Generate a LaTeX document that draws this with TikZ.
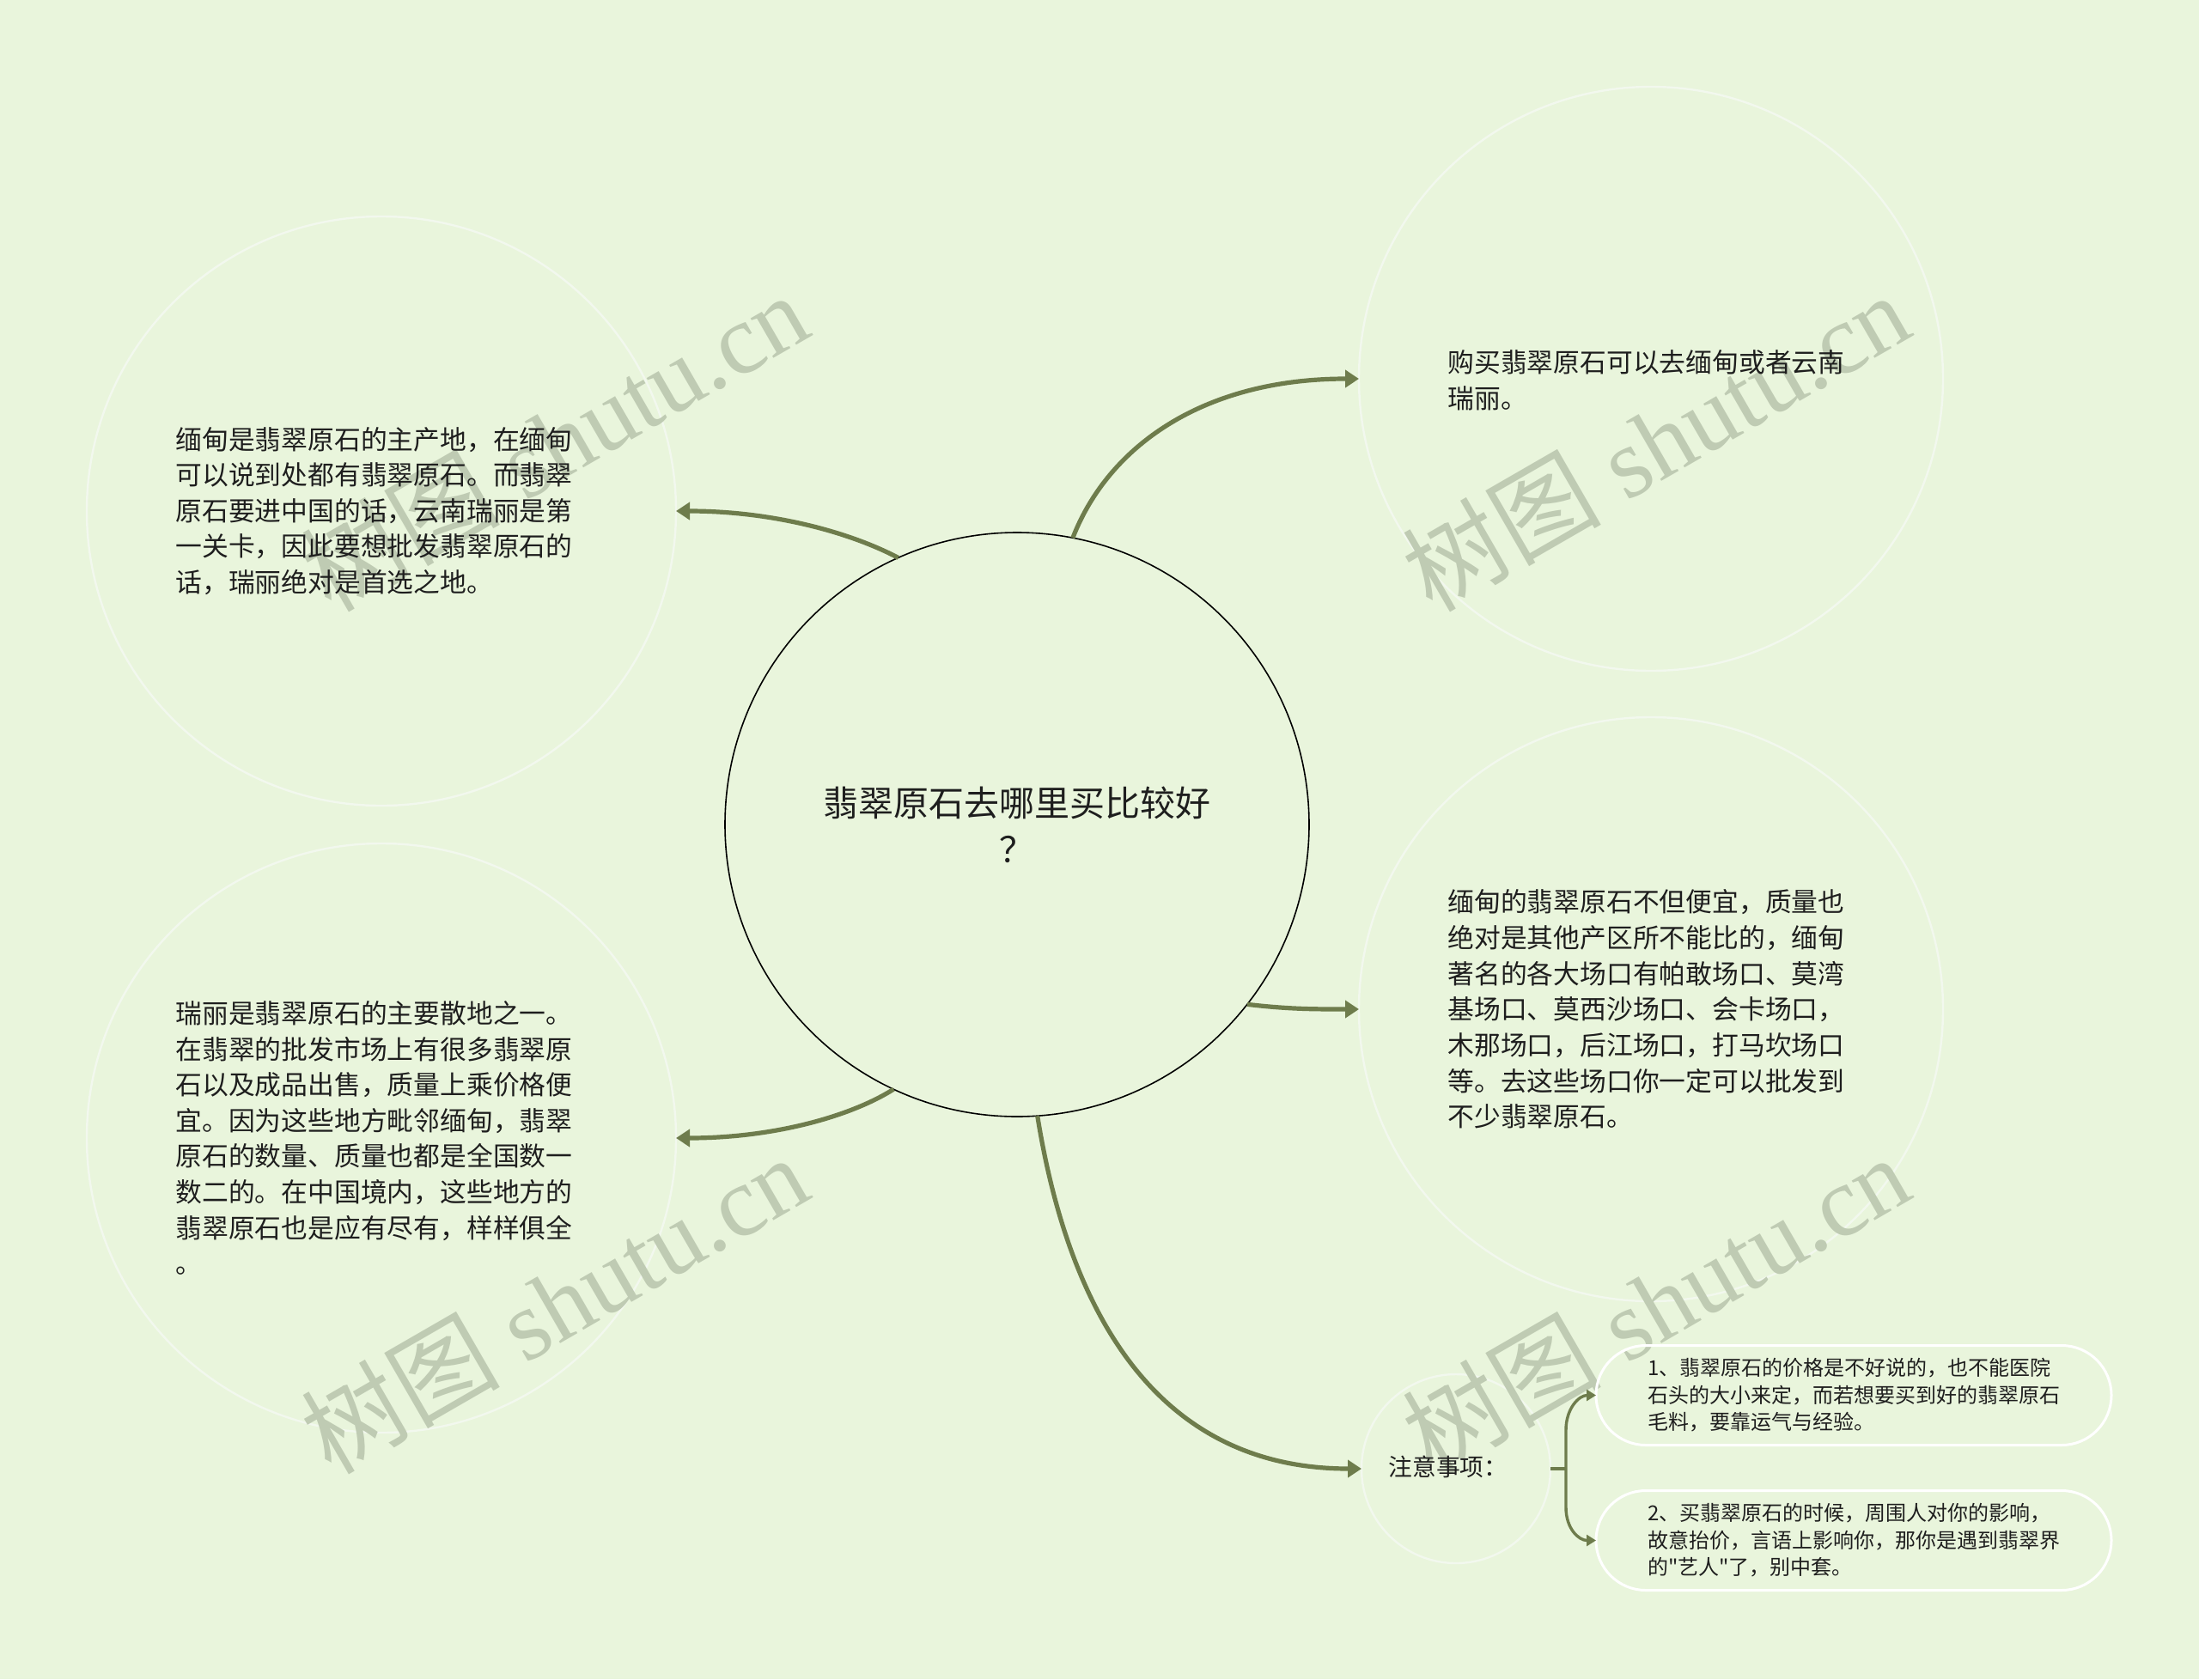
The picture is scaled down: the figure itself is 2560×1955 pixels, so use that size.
\documentclass[tikz,border=0pt]{standalone}
\usepackage{fontspec}
\newfontfamily\cjk{Noto Sans CJK SC}
\newfontfamily\wmlatin{Liberation Serif}
\usetikzlibrary{arrows.meta}
\definecolor{bgc}{HTML}{E9F5DC}
\definecolor{ringc}{HTML}{F2F8EE}
\definecolor{linec}{HTML}{6E7C4C}
\definecolor{txtc}{HTML}{1E1E1E}
\definecolor{wmc}{HTML}{BFCBB3}
\begin{document}
\begin{tikzpicture}[x=0.5pt,y=-0.5pt,
  ring/.style={circle,draw=ringc,line width=1.2pt,inner sep=0pt,outer sep=0pt,minimum size=#1},
  body/.style={font=\cjk\fontsize{15.4pt}{20.8pt}\selectfont,text=txtc,align=left,anchor=west,inner sep=0pt},
  pill/.style={draw=white,line width=1.5pt,rounded corners=29pt,minimum width=300pt,minimum height=58pt,inner sep=0pt,outer sep=0pt,font=\cjk\fontsize{12pt}{15.75pt}\selectfont,text=txtc,align=left},
  conn/.style={draw=linec,line width=2.6pt,-{Triangle[length=8pt,width=10pt]}},
  brk/.style={draw=linec,line width=1.7pt},
  wm/.style={text=wmc,font=\wmlatin\fontsize{58pt}{60pt}\selectfont,inner sep=0pt}
]
\fill[bgc] (0,0) rectangle (2560,1955);
\useasboundingbox (0,0) rectangle (2560,1955);

% background rings
\node[ring=343pt] (tl) at (444,595) {};
\node[ring=343pt] (bl) at (444,1325) {};
\node[ring=340pt] (tr) at (1922,441) {};
\node[ring=340pt] (mr) at (1922,1175) {};
\node[ring=110pt] (notes) at (1695,1710) {};

% watermarks
\node[wm,rotate=30] (wm1) at (645,514) {{\cjk 树图} shutu.cn};
\node[wm,rotate=30] (wm2) at (1927,514) {{\cjk 树图} shutu.cn};
\node[wm,rotate=30] (wm3) at (645,1518) {{\cjk 树图} shutu.cn};
\node[wm,rotate=30] (wm4) at (1927,1518) {{\cjk 树图} shutu.cn};

% root
\node[circle,draw=black,line width=0.8pt,minimum size=340pt,inner sep=0pt,outer sep=0pt,
  font=\cjk\fontsize{20.5pt}{27pt}\selectfont,text=txtc,align=center] (root) at (1184,960)
  {翡翠原石去哪里买比较好\\？};

% texts
\node[body] (tltext) at (204,595) {缅甸是翡翠原石的主产地，在缅甸\\可以说到处都有翡翠原石。而翡翠\\原石要进中国的话，云南瑞丽是第\\一关卡，因此要想批发翡翠原石的\\话，瑞丽绝对是首选之地。};
\node[body] (bltext) at (204,1325) {瑞丽是翡翠原石的主要散地之一。\\在翡翠的批发市场上有很多翡翠原\\石以及成品出售，质量上乘价格便\\宜。因为这些地方毗邻缅甸，翡翠\\原石的数量、质量也都是全国数一\\数二的。在中国境内，这些地方的\\翡翠原石也是应有尽有，样样俱全\\。};
\node[body] (trtext) at (1685,443) {购买翡翠原石可以去缅甸或者云南\\瑞丽。};
\node[body] (mrtext) at (1685,1175) {缅甸的翡翠原石不但便宜，质量也\\绝对是其他产区所不能比的，缅甸\\著名的各大场口有帕敢场口、莫湾\\基场口、莫西沙场口、会卡场口，\\木那场口，后江场口，打马坎场口\\等。去这些场口你一定可以批发到\\不少翡翠原石。};
\node[body,font=\cjk\fontsize{13.9pt}{17pt}\selectfont] (notestext) at (1616,1708) {注意事项：};

% pills
\node[pill] (p1) at (2158,1624.5) {1、翡翠原石的价格是不好说的，也不能医院\\石头的大小来定，而若想要买到好的翡翠原石\\毛料，要靠运气与经验。};
\node[pill] (p2) at (2158,1793.5) {2、买翡翠原石的时候，周围人对你的影响，\\故意抬价，言语上影响你，那你是遇到翡翠界\\的"艺人"了，别中套。};

% connectors
\draw[conn] (root.114.5) .. controls (990,620) and (900,595) .. (tl.east);
\draw[conn] (root.245.5) .. controls (990,1300) and (900,1325) .. (bl.east);
\draw[conn] (root.79.5) .. controls (1290,520) and (1400,441) .. (tr.west);
\draw[conn] (root.-38) .. controls (1500,1175) and (1530,1175) .. (mr.west);
\draw[conn] (root.-86) .. controls (1240,1500) and (1330,1710) .. (notes.west);

% bracket
\coordinate (bk) at ([xshift=9pt]notes.east);
\draw[brk] (notes.east) -- (bk);
\draw[brk,-{Triangle[length=5.5pt,width=6.5pt]}] (bk) -- ++(0,-45) .. controls +(0,-25) and +(-20,0) .. (p1.west);
\draw[brk,-{Triangle[length=5.5pt,width=6.5pt]}] (bk) -- ++(0,45) .. controls +(0,25) and +(-20,0) .. (p2.west);
\end{tikzpicture}
\end{document}
